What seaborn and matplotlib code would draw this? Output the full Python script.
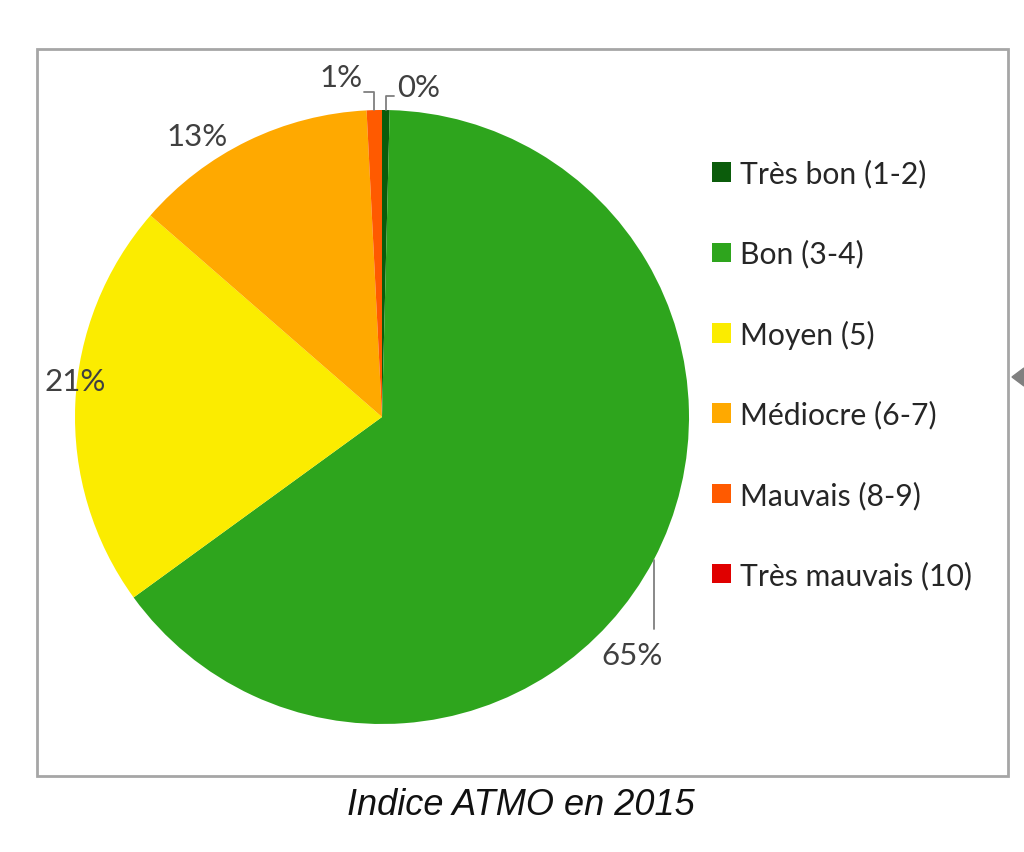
import numpy as np
import matplotlib
matplotlib.use("Agg")
import matplotlib.pyplot as plt
import seaborn as sns
from matplotlib.patches import Rectangle, Polygon

# data (percent of days in 2015)
categories = ["Très bon (1-2)", "Bon (3-4)", "Moyen (5)", "Médiocre (6-7)",
              "Mauvais (8-9)", "Très mauvais (10)"]
shares = [0.4, 64.6, 21.4, 12.8, 0.8, 0.0]
pct_labels = ["0%", "65%", "21%", "13%", "1%", ""]
palette = ["#0b5c0b", "#2ea51d", "#fbec00", "#ffa900", "#ff5a00", "#e00000"]

sns.set_theme(style="white")
plt.rcParams["font.family"] = ["Lato", "DejaVu Sans"]

fig = plt.figure(figsize=(10.24, 8.53), dpi=100)

# pie axes: centre (382, 418) px, radius ~307 px
CX, CY = 382, 418
R = 307
lim = 1.2
half = R * lim
ax = fig.add_axes([(CX - half) / 1024, (853 - CY - half) / 853,
                   2 * half / 1024, 2 * half / 853])
wedges, _ = ax.pie(shares, colors=sns.color_palette(palette), startangle=90,
                   counterclock=False, radius=1.0,
                   wedgeprops=dict(linewidth=0))
ax.set_xlim(-lim, lim)
ax.set_ylim(-lim, lim)
ax.set_aspect("equal")
ax.axis("off")

lab_color = "#404040"
fs = 22.5


def edge_point(w):
    ang = np.deg2rad((w.theta1 + w.theta2) / 2)
    return np.cos(ang), np.sin(ang)


def px(x, y):
    return (x - CX) / R, (CY - y) / R


# 65% with vertical leader
x0, y0 = edge_point(wedges[1])
ax.plot([x0, x0], [y0, px(0, 630)[1]], color="#7f7f7f", lw=1.3)
ax.text(*px(632, 656), pct_labels[1], ha="center", va="center",
        fontsize=fs, color=lab_color)

# 21% and 13%
ax.text(*px(75, 382), pct_labels[2], ha="center", va="center",
        fontsize=fs, color=lab_color)
ax.text(*px(197, 137), pct_labels[3], ha="center", va="center",
        fontsize=fs, color=lab_color)

# 0% with elbow leader
x0, y0 = edge_point(wedges[0])
yk = px(0, 97)[1]
ax.plot([x0, x0, px(394, 0)[0]], [y0, yk, yk], color="#7f7f7f", lw=1.3)
ax.text(*px(419, 88), pct_labels[0], ha="center", va="center",
        fontsize=fs, color=lab_color)

# 1% with elbow leader
x0, y0 = edge_point(wedges[4])
yk = px(0, 93)[1]
ax.plot([x0, x0, px(364, 0)[0]], [y0, yk, yk], color="#7f7f7f", lw=1.3)
ax.text(*px(341, 78), pct_labels[4], ha="center", va="center",
        fontsize=fs, color=lab_color)

# legend
leg = fig.legend(wedges, categories, loc="upper left",
                 bbox_to_anchor=(712 / 1024, 1 - 160 / 853),
                 frameon=False, fontsize=21.7, handlelength=0.62,
                 handleheight=0.62, handletextpad=0.3, labelspacing=1.71,
                 borderaxespad=0, borderpad=0)
for t in leg.get_texts():
    t.set_color("#262626")

# chart frame
fig.patches.append(Rectangle((37 / 1024, 1 - 777 / 853), (1008 - 37) / 1024,
                             (777 - 50) / 853, transform=fig.transFigure,
                             fill=False, edgecolor="#a6a6a6", lw=2))
fig.patches.append(Polygon([(1024 / 1024, 1 - 369 / 853),
                            (1012 / 1024, 1 - 378 / 853),
                            (1024 / 1024, 1 - 387 / 853)],
                           transform=fig.transFigure, color="#808080"))

fig.text(521 / 1024, 1 - 806 / 853, "Indice ATMO en 2015", ha="center",
         va="center", fontsize=26, style="italic",
         family=["Liberation Sans", "DejaVu Sans"], color="#111111")

fig.savefig("out.png", dpi=100)
